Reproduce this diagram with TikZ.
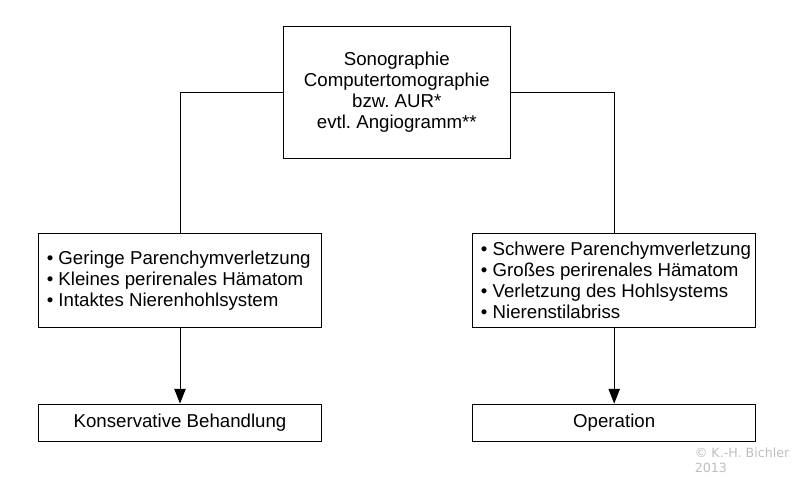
\documentclass[tikz,border=0pt]{standalone}
\usepackage{fontspec}
\setmainfont{Liberation Sans}
\newfontfamily\copyfont{DejaVu Sans}
\usetikzlibrary{arrows.meta}
\definecolor{copygray}{RGB}{190,190,190}
\frenchspacing
\begin{document}
\begin{tikzpicture}[x=0.75pt,y=-0.75pt,
  txt/.style={inner sep=0pt, font={\fontsize{14}{15.75}\selectfont\frenchspacing}},
  box/.style={draw, line width=0.75pt, inner sep=0pt, txt},
  topbox/.style={box, align=center, minimum width=170.25pt, minimum height=99pt},
  listbox/.style={box, minimum width=212.5pt, minimum height=70.8pt},
  listtext/.style={txt, align=left, anchor=west},
  resbox/.style={box, align=center, minimum width=212.5pt, minimum height=27.75pt},
  conn/.style={line width=0.75pt},
  arr/.style={line width=0.75pt, -{Triangle[width=8.5pt,length=11pt]}},
]
\useasboundingbox (0,0) rectangle (794,476);

\node[topbox] (top) at (396.8,92) {Sonographie\\Computertomographie\\bzw. AUR*\\evtl. Angiogramm**};

\node[listbox] (lbox) at (180,280.5) {};
\node[listtext] (ltext) at ([xshift=6.5pt]lbox.west) {• Geringe Parenchymverletzung\\• Kleines perirenales Hämatom\\• Intaktes Nierenhohlsystem};

\node[listbox] (rbox) at (614.2,280.5) {};
\node[listtext] (rtext) at ([xshift=6.5pt]rbox.west) {• Schwere Parenchymverletzung\\• Großes perirenales Hämatom\\• Verletzung des Hohlsystems\\• Nierenstilabriss};

\node[resbox] (lres) at (180,422.6) {Konservative Behandlung};
\node[resbox] (rres) at (614.2,422.6) {Operation};

\draw[conn] (top.west) -| (lbox.north);
\draw[conn] (top.east) -| (rbox.north);
\draw[arr] (lbox.south) -- (lres.north);
\draw[arr] (rbox.south) -- (rres.north);

\node[anchor=north west, align=left, inner sep=0pt, text=copygray,
  font=\copyfont\fontsize{9.5}{11.25}\selectfont] (copy) at (694.5,447.5) {© K.-H. Bichler\\2013};
\end{tikzpicture}
\end{document}
